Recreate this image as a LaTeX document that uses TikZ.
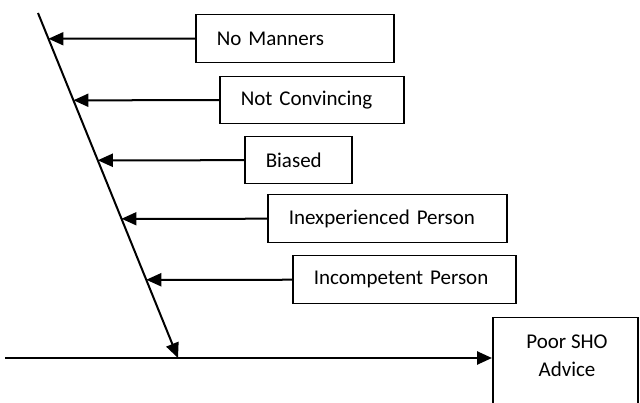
\documentclass[tikz,border=0pt]{standalone}
\usepackage{fontspec}
\setmainfont{Carlito}
\usetikzlibrary{arrows.meta}
\begin{document}
\begin{tikzpicture}[x=1pt,y=-1pt,
  causebox/.style={draw,line width=1.5pt,rectangle,anchor=north west,inner xsep=21pt,inner ysep=0pt,align=left,font=\fontsize{21}{26}\selectfont},
  effectbox/.style={draw,line width=1.5pt,rectangle,anchor=north west,inner sep=0pt},
  tip/.style={-{Triangle[length=15pt,width=13pt]},line width=2pt},
]
\useasboundingbox (0,0) rectangle (640,403);
% cause boxes
\node[causebox,text width=156pt,minimum height=48pt] (nm) at (195,14) {No Manners};
\node[causebox,text width=142pt,minimum height=47pt] (nc) at (219,76) {Not Convincing};
\node[causebox,text width=65pt,minimum height=47pt] (bi) at (244,136) {Biased};
\node[causebox,text width=197pt,minimum height=48pt] (ie) at (267,194) {Inexperienced Person};
\node[causebox,text width=181pt,minimum height=48pt] (ic) at (292,255) {Incompetent Person};
% effect box
\node[effectbox,minimum width=145pt,minimum height=110pt] (poor) at (492,317) {};
\node[align=center,inner sep=0pt,font=\fontsize{21}{28}\selectfont] (poortext) at (567,356) {Poor SHO\\Advice};
% spine coordinates
\coordinate (top) at (38,13);
\coordinate (bot) at (178,358);
\coordinate (start) at (5,358);
\foreach \n in {nm,nc,bi,ie,ic}{
  \coordinate (h\n) at (\n.west -| start);
}
% spine
\draw[tip] (top) -- (bot);
\draw[tip,line width=2.5pt] (start) -- (poor.west |- start);
% cause arrows
\draw[tip] (nm.west) -- (intersection of top--bot and nm.west--hnm);
\draw[tip] (nc.west) -- (intersection of top--bot and nc.west--hnc);
\draw[tip] (bi.west) -- (intersection of top--bot and bi.west--hbi);
\draw[tip] (ie.west) -- (intersection of top--bot and ie.west--hie);
\draw[tip] (ic.west) -- (intersection of top--bot and ic.west--hic);
\end{tikzpicture}
\end{document}
